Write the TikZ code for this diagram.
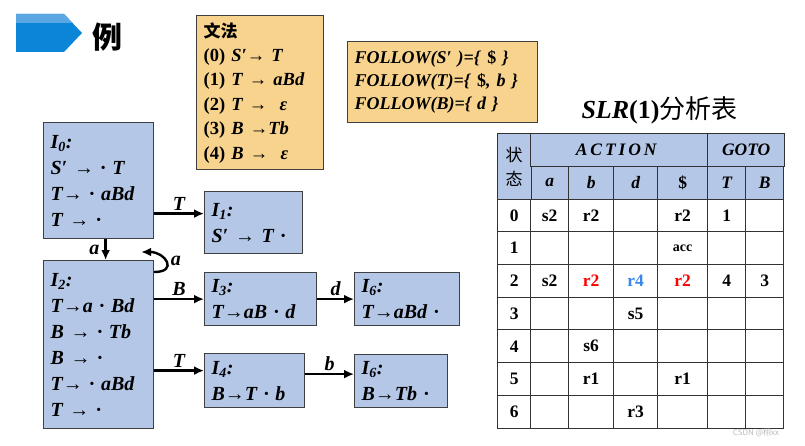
\documentclass[tikz,border=0pt]{standalone}
\usepackage{fontspec}
\setmainfont{Liberation Serif}
\newfontfamily\cjk{Noto Sans CJK SC}
\usetikzlibrary{matrix,fit,scopes,calc,arrows.meta}
\definecolor{titleblue}{HTML}{0B85D7}
\definecolor{titlelight}{HTML}{5AA7E3}
\definecolor{stblue}{HTML}{B4C7E7}
\definecolor{gbgold}{HTML}{F7D38E}
\definecolor{boxline}{HTML}{404040}
\definecolor{tabline}{HTML}{333333}
\definecolor{rblue}{HTML}{3A86EA}
\newcommand\stfont{\bfseries\itshape\fontsize{20}{26}\selectfont}
\newcommand\tbfont{\bfseries\fontsize{17.5}{20}\selectfont}
\tikzset{
  >={Latex[length=10pt,width=9pt]},
  st/.style={draw=boxline, fill=stblue, line width=1.2pt, anchor=north west, align=left,
    inner xsep=7pt, inner ysep=0pt, font=\stfont},
  gb/.style={draw=boxline, fill=gbgold, line width=1.2pt, anchor=north west, align=left,
    inner xsep=7pt, inner ysep=0pt},
  lb/.style={font=\stfont, inner sep=2pt},
  hd/.style={draw=tabline, fill=stblue, line width=1pt, inner sep=0pt, fit=#1}
}
\begin{document}
\begin{tikzpicture}[x=1pt, y=-1pt]
  \useasboundingbox (0,0) rectangle (805,446);
  % title
  \fill[titleblue] (16,14) -- (64,14) -- (82,33) -- (64,52) -- (16,52) -- cycle;
  \fill[titlelight] (16,14) -- (64,14) -- (72.5,23) -- (16,23) -- cycle;
  \node[font=\cjk\bfseries\fontsize{30}{30}\selectfont] (li) at (107,37) {例};

  \node[gb, text width=113pt, minimum height=154pt, font=\bfseries\fontsize{18.5}{24.4}\selectfont] (gram) at (196,15)
    {{\cjk\bfseries\fontsize{17}{24.4}\selectfont 文法}\\
     (0) \textit{S′→ T}\\
     (1) \textit{T → aBd}\\
     (2) \textit{T →\ \ ε}\\
     (3) \textit{B →Tb}\\
     (4) \textit{B →\ \ ε}};
  \node[gb, text width=176pt, minimum height=81pt, font=\bfseries\itshape\fontsize{18}{23}\selectfont] (flw) at (347,41)
    {FOLLOW(S′ )=\{ \textup{\$} \}\\
     FOLLOW(T)=\{ \textup{\$}, b \}\\
     FOLLOW(B)=\{ d \}};

  % item sets
  \node[st, text width=96pt, minimum height=116pt] (i0) at (43,122)
    {I\textsubscript{0}:\\S′ → · T\\T→ · aBd\\T → ·};
  \node[st, text width=96pt, minimum height=168pt] (i2) at (43,260)
    {I\textsubscript{2}:\\T→a · Bd\\B → · Tb\\B → ·\\T→ · aBd\\T → ·};
  \node[st, text width=84pt, minimum height=62pt] (i1) at (204,191)
    {I\textsubscript{1}:\\S′ → T ·};
  \node[st, text width=98pt, minimum height=53pt] (i3) at (204,272)
    {I\textsubscript{3}:\\T→aB · d};
  \node[st, text width=91pt, minimum height=53pt] (i5) at (354,272)
    {I\textsubscript{6}:\\T→aBd ·};
  \node[st, text width=86pt, minimum height=54pt] (i4) at (204,353)
    {I\textsubscript{4}:\\B→T · b};
  \node[st, text width=79pt, minimum height=53pt] (i6) at (354,354)
    {I\textsubscript{6}:\\B→Tb ·};

  \coordinate (t1) at ([yshift=9pt]i1.west);
  \coordinate (t4) at ([yshift=10pt]i4.west);
  \coordinate (t6) at ([yshift=7pt]i6.west);
  \coordinate (ta) at ([xshift=7pt]i0.south);
  \coordinate (la) at ([yshift=-12pt]i2.north east);
  \coordinate (lz) at ([xshift=-13pt,yshift=8pt]i2.north east);
  {[->, line width=2.4pt]
  \draw (t1 -| i0.east) -- node[lb, above] {T} (t1);
  \draw (ta) -- node[lb, left=3pt] {a} (ta |- i2.north);
  \draw (la) to[out=0, in=0, looseness=2.6] node[lb, right=3pt, pos=0.55] {a} (lz);
  \draw (i3.west -| i2.east) -- node[lb, above] {B} (i3.west);
  \draw (t4 -| i2.east) -- node[lb, above] {T} (t4);
  \draw (i3.east) -- node[lb, above] {d} (i5.west);
  \draw (t6 -| i4.east) -- node[lb, above] {b} (t6);
  }

  % SLR(1) table
  \node[anchor=west, font=\bfseries\fontsize{26}{26}\selectfont] (ttl) at (578,110)
    {\textit{SLR}(1){\cjk\mdseries 分析表}};
  \matrix[matrix of nodes, nodes in empty cells, anchor=north west, inner sep=0pt,
    column sep=-1pt, row sep=-1pt,
    nodes={draw=tabline, line width=1pt, minimum height=32.7pt, inner sep=0pt, anchor=center, font=\tbfont},
    row 1/.style={nodes={fill=stblue}},
    row 2/.style={nodes={fill=stblue, font=\tbfont\itshape}},
    column 1/.style={nodes={minimum width=33pt}},
    column 2/.style={nodes={minimum width=38pt}},
    column 3/.style={nodes={minimum width=45pt}},
    column 4/.style={nodes={minimum width=44pt}},
    column 5/.style={nodes={minimum width=50pt}},
    column 6/.style={nodes={minimum width=38pt}},
    column 7/.style={nodes={minimum width=38pt}}] (tb) at (497,133) {
     &    &    &    &    &   &   \\
     & a  & b  & d  & \textup{\$} & T & B \\
   0 & s2 & r2 &    & r2 & 1 &   \\
   1 &    &    &    & |[font=\bfseries\fontsize{14}{16}\selectfont]| acc &   &   \\
   2 & s2 & |[text=red]| r2 & |[text=rblue]| r4 & |[text=red]| r2 & 4 & 3 \\
   3 &    &    & s5 &    &   &   \\
   4 &    & s6 &    &    &   &   \\
   5 &    & r1 &    & r1 &   &   \\
   6 &    &    & r3 &    &   &   \\
  };
  \node[hd=(tb-1-1)(tb-2-1)] (zt) {};
  \node[hd=(tb-1-2)(tb-1-5)] (act) {};
  \node[hd=(tb-1-6)(tb-1-7)] (gt) {};
  \node[align=center, font=\cjk\fontsize{17}{24}\selectfont] (ztx) at (tb-1-1.south) {状\\态};
  \node[font=\tbfont\itshape] (actx) at ($(tb-1-2)!0.5!(tb-1-5)$) {A\,C\,T\,I\,O\,N};
  \node[font=\tbfont\itshape] (gtx) at (tb-1-6.east) {GOTO};

  \node[font=\cjk\fontsize{8}{8}\selectfont, text=gray!55] (wm) at (756,433) {CSDN @栩xx};
\end{tikzpicture}
\end{document}
